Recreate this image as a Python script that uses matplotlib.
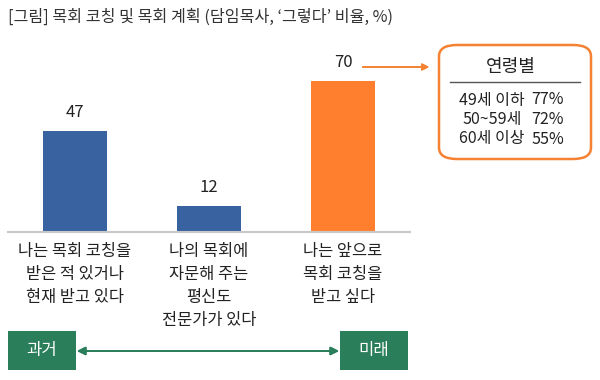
import matplotlib
matplotlib.use('Agg')
import matplotlib.pyplot as plt
from matplotlib.patches import FancyBboxPatch, Rectangle

plt.rcParams['font.family'] = ['Noto Sans CJK KR', 'DejaVu Sans']

# data
categories = ['나는 목회 코칭을\n받은 적 있거나\n현재 받고 있다',
              '나의 목회에\n자문해 주는\n평신도\n전문가가 있다',
              '나는 앞으로\n목회 코칭을\n받고 싶다']
values = [47, 12, 70]
bar_colors = ['#3862A0', '#3862A0', '#FF7F2F']
age_groups = ['49세 이하', '50~59세', '60세 이상']
age_values = [77, 72, 55]
title = "[그림] 목회 코칭 및 목회 계획 (담임목사, ‘그렇다’ 비율, %)"

W, H = 600, 380


def fx(x):
    return x / W


def fy(y):
    return 1 - y / H


fig = plt.figure(figsize=(6, 3.8), dpi=100)
fig.patch.set_facecolor('white')

# main axes: baseline at y=232px, spans x 8..410px
ax = fig.add_axes([fx(8), fy(232), (410 - 8) / W, (232 - 50) / H])
x = list(range(len(values)))
ax.bar(x, values, width=0.48, color=bar_colors)
ax.set_xlim(-0.5, 2.5)
ax.set_ylim(0, 84.4)
for xi, v in zip(x, values):
    ax.annotate(f'{v}', (xi, v), xytext=(0, 7), textcoords='offset points',
                ha='center', va='bottom', fontsize=12, color='#222222')

for s in ['top', 'left', 'right']:
    ax.spines[s].set_visible(False)
ax.spines['bottom'].set_color('#C8C8C8')
ax.spines['bottom'].set_linewidth(1.5)
ax.set_yticks([])
ax.set_xticks(x)
ax.set_xticklabels(categories, fontsize=11.8, color='#222222', linespacing=1.45, va='top')
ax.tick_params(axis='x', length=0, pad=8)

# title
fig.text(fx(8), fy(17), title, fontsize=11.6, color='#333333', ha='left', va='center')

# arrow from 70 label to age box
orange = '#F58233'
fig.add_artist(plt.annotate('', xy=(fx(432), fy(67)), xytext=(fx(360), fy(67)),
                            xycoords='figure fraction', textcoords='figure fraction',
                            arrowprops=dict(arrowstyle='-|>', color=orange, lw=1.2,
                                            mutation_scale=10)))

# age box
box = FancyBboxPatch((fx(439), fy(159)), (591 - 439) / W, (159 - 45) / H,
                     boxstyle='round,pad=0,rounding_size=0.03',
                     transform=fig.transFigure, facecolor='white',
                     edgecolor=orange, linewidth=1.8)
fig.add_artist(box)
fig.text(fx(511), fy(67), '연령별', fontsize=13, ha='center', va='center', color='#222222')
fig.add_artist(plt.Line2D([fx(450), fx(580)], [fy(82), fy(82)],
                          transform=fig.transFigure, color='#555555', lw=1))
for i, (g, v) in enumerate(zip(age_groups, age_values)):
    yy = fy(100 + i * 19.5)
    fig.text(fx(492), yy, g, fontsize=11.5, ha='center', va='center', color='#222222')
    fig.text(fx(548), yy, f'{v}%', fontsize=11.5, ha='center', va='center', color='#222222')

# past / future boxes
green = '#2A7E5A'
for x0, lab in [(8, '과거'), (340, '미래')]:
    fig.add_artist(Rectangle((fx(x0), fy(370)), 68 / W, 39 / H,
                             transform=fig.transFigure, facecolor=green, edgecolor='none'))
    fig.text(fx(x0 + 34), fy(351), lab, fontsize=12, ha='center', va='center', color='white')
fig.add_artist(plt.annotate('', xy=(fx(339), fy(351)), xytext=(fx(77), fy(351)),
                            xycoords='figure fraction', textcoords='figure fraction',
                            arrowprops=dict(arrowstyle='<|-|>', color=green, lw=1.3,
                                            mutation_scale=12, shrinkA=0, shrinkB=0)))

fig.savefig('out.png', dpi=100, facecolor='white')
